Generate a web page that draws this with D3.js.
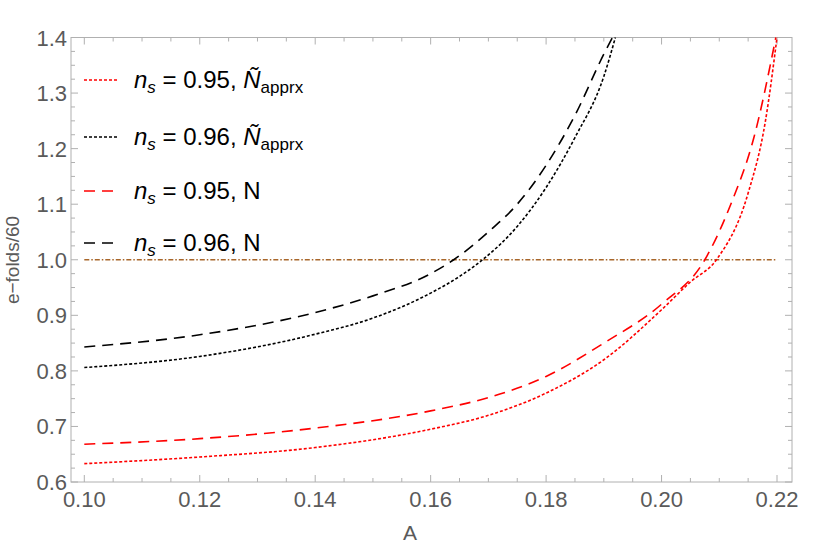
<!DOCTYPE html>
<html><head><meta charset="utf-8">
<script src="https://cdn.jsdelivr.net/npm/d3@7"></script>
<style>body{margin:0;background:#fff}</style>
</head><body><svg id="chart" width="830" height="548"></svg>
<script>
// values
const redApprxA = [0.10, 0.12, 0.14, 0.16, 0.17, 0.18, 0.19, 0.20, 0.205, 0.2095, 0.215, 0.218, 0.220];
const redApprxY = [0.633, 0.645, 0.662, 0.695, 0.72, 0.76, 0.82, 0.91, 0.96, 1.0, 1.12, 1.25, 1.4];
const redNA = [0.10, 0.12, 0.14, 0.16, 0.17, 0.18, 0.19, 0.20, 0.2075, 0.212, 0.216, 0.2198];
const redNY = [0.668, 0.678, 0.697, 0.728, 0.752, 0.79, 0.85, 0.92, 1.0, 1.1, 1.22, 1.4];
const blackApprxA = [0.10, 0.12, 0.14, 0.15, 0.16, 0.165, 0.169, 0.175, 0.18, 0.185, 0.19, 0.192];
const blackApprxY = [0.806, 0.826, 0.866, 0.895, 0.94, 0.97, 1.0, 1.06, 1.13, 1.22, 1.33, 1.4];
const blackNA = [0.10, 0.12, 0.14, 0.15, 0.16, 0.164, 0.17, 0.175, 0.18, 0.185, 0.19, 0.1915];
const blackNY = [0.843, 0.865, 0.905, 0.935, 0.975, 1.0, 1.05, 1.1, 1.17, 1.26, 1.37, 1.4];
const xTicks = [0.10, 0.12, 0.14, 0.16, 0.18, 0.20, 0.22];
const yTicks = [0.6, 0.7, 0.8, 0.9, 1.0, 1.1, 1.2, 1.3, 1.4];

const svg = d3.select('#chart');
const x = d3.scaleLinear().domain([0.10, 0.22]).range([84.3, 777]);
const y = d3.scaleLinear().domain([0.6, 1.4]).range([482, 37.5]);
const pLeft = 71, pRight = 792, pTop = 37.5, pBottom = 482;
const axisCol = '#b0b0b0', labCol = '#5a5a5a';

// frame
svg.append('rect').attr('x', pLeft).attr('y', pTop).attr('width', pRight - pLeft).attr('height', pBottom - pTop)
    .attr('fill', 'none').attr('stroke', axisCol).attr('stroke-width', 1);

const xMinor = d3.range(0.10, 0.2201, 0.005);
const yMinor = d3.range(0.6, 1.4001, 0.025);
xMinor.forEach((t, i) => {
    let len = i % 4 === 0 ? 7 : 4;
    svg.append('line').attr('x1', x(t)).attr('x2', x(t)).attr('y1', pBottom).attr('y2', pBottom - len).attr('stroke', axisCol);
    svg.append('line').attr('x1', x(t)).attr('x2', x(t)).attr('y1', pTop).attr('y2', pTop + len).attr('stroke', axisCol);
});
yMinor.forEach((t, i) => {
    let len = i % 4 === 0 ? 7 : 4;
    svg.append('line').attr('y1', y(t)).attr('y2', y(t)).attr('x1', pLeft).attr('x2', pLeft + len).attr('stroke', axisCol);
    svg.append('line').attr('y1', y(t)).attr('y2', y(t)).attr('x1', pRight).attr('x2', pRight - len).attr('stroke', axisCol);
});

const tickFont = '"Liberation Sans Narrow", "Liberation Sans", sans-serif';
svg.append('g').selectAll('text').data(xTicks).enter().append('text')
    .attr('x', d => x(d)).attr('y', pBottom + 25).attr('text-anchor', 'middle')
    .attr('font-family', tickFont).attr('font-size', 22).attr('fill', labCol)
    .text(d => d3.format('.2f')(d));
svg.append('g').selectAll('text').data(yTicks).enter().append('text')
    .attr('x', pLeft - 4).attr('y', d => y(d) + 8).attr('text-anchor', 'end')
    .attr('font-family', tickFont).attr('font-size', 22).attr('fill', labCol)
    .text(d => d3.format('.1f')(d));

svg.append('text').attr('x', 410).attr('y', 540).attr('text-anchor', 'middle')
    .attr('font-family', 'Liberation Sans, sans-serif').attr('font-size', 21).attr('fill', labCol).text('A');
svg.append('text').attr('transform', 'translate(19,260) rotate(-90)').attr('text-anchor', 'middle')
    .attr('font-family', 'Liberation Sans, sans-serif').attr('font-size', 19).attr('fill', labCol).text('e\u2212folds/60');

// reference line at 1.0
svg.append('line').attr('x1', x(0.10)).attr('x2', x(0.22)).attr('y1', y(1.0)).attr('y2', y(1.0))
    .attr('stroke', '#a8662a').attr('stroke-width', 1.5).attr('stroke-dasharray', '5,2,1.5,2');

const line = d3.line().x(d => x(d[0])).y(d => y(d[1])).curve(d3.curveMonotoneX);
const series = [
    { a: redApprxA, v: redApprxY, col: '#ff0000', dash: '3,2' },
    { a: blackApprxA, v: blackApprxY, col: '#000', dash: '3,2' },
    { a: redNA, v: redNY, col: '#ff0000', dash: '11,7' },
    { a: blackNA, v: blackNY, col: '#000', dash: '11,7' },
];
series.forEach(s => {
    svg.append('path').datum(d3.zip(s.a, s.v)).attr('d', line)
        .attr('fill', 'none').attr('stroke', s.col).attr('stroke-width', 1.6).attr('stroke-dasharray', s.dash);
});

// legend
const legRows = [
    { val: '0.95', n: 'apprx' }, { val: '0.96', n: 'apprx' }, { val: '0.95', n: 'N' }, { val: '0.96', n: 'N' }
];
const legY = [80, 137, 191, 243];
legRows.forEach((r, i) => {
    const s = series[i];
    svg.append('line').attr('x1', 84).attr('x2', 117).attr('y1', legY[i]).attr('y2', legY[i])
        .attr('stroke', s.col).attr('stroke-width', 1.6).attr('stroke-dasharray', s.dash);
    const t = svg.append('text').attr('x', 134).attr('y', legY[i] + 8)
        .attr('font-family', 'Liberation Sans, sans-serif').attr('font-size', 24).attr('fill', '#000');
    t.append('tspan').attr('font-style', 'italic').text('n');
    t.append('tspan').attr('font-style', 'italic').attr('font-size', 17).attr('dy', 5).text('s');
    t.append('tspan').attr('dy', -5).text(' = ' + r.val + ', ');
    if (r.n === 'apprx') {
        t.append('tspan').attr('font-style', 'italic').text('\u00d1');
        t.append('tspan').attr('font-size', 17).attr('dy', 5).text('apprx');
    } else {
        t.append('tspan').text(' N');
    }
});
</script></body></html>
